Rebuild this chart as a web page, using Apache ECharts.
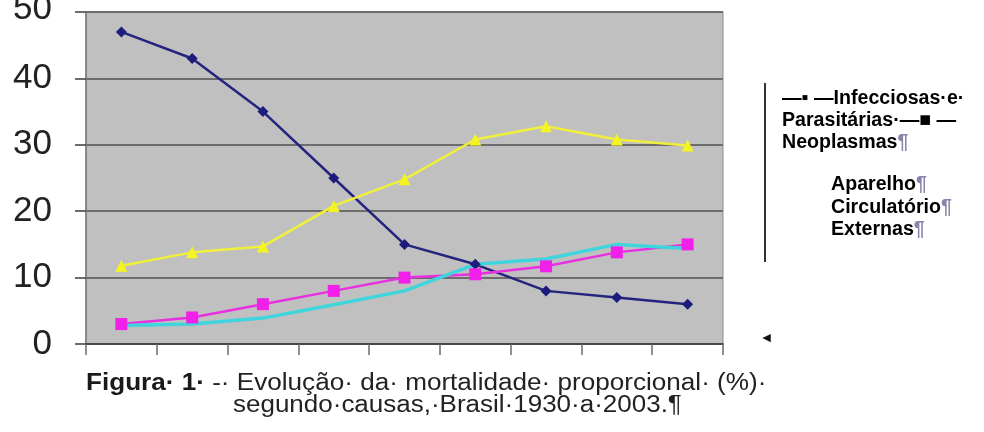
<!DOCTYPE html>
<html>
<head>
<meta charset="utf-8">
<script src="https://cdn.jsdelivr.net/npm/echarts@6/dist/echarts.min.js"></script>
<style>html,body{margin:0;padding:0;background:#fff}#c{width:984px;height:432px}</style>
</head>
<body>
<div id="c"></div>
<script>
var categories = ['1930', '1940', '1950', '1960', '1970', '1980', '1990', '2000', '2003'];
var infecciosas = [47, 43, 35, 25, 15, 12, 8, 7, 6];
var neoplasmas = [3, 4, 6, 8, 10, 10.5, 11.7, 13.8, 15];
var aparelhoCirculatorio = [11.8, 13.8, 14.7, 20.8, 24.8, 30.8, 32.8, 30.8, 29.9];
var externas = [2.8, 3, 3.9, 5.9, 8, 12, 12.8, 15, 14.4];
var yTicks = {min: 0, max: 50, interval: 10};
var caption1 = '{b|Figura· 1·} -· Evolução· da· mortalidade· proporcional· (%)·';
var caption2 = 'segundo·causas,·Brasil·1930·a·2003.¶';
var legendLines = ['—▪ —Infecciosas·e·', 'Parasitárias·—■ —', 'Neoplasmas{p|¶}', 'Aparelho{p|¶}', 'Circulatório{p|¶}', 'Externas{p|¶}'];

var chart = echarts.init(document.getElementById('c'), null, {renderer: 'canvas'});
var FF = 'Liberation Sans, Arial, sans-serif';

function legendText(i, x, y) {
  return {
    type: 'text', x: x, y: y, scaleX: 0.98, z: 100,
    style: {
      text: legendLines[i], x: 0, y: 0,
      font: 'bold 20px ' + FF, fill: '#000', textVerticalAlign: 'middle',
      rich: {p: {fill: '#8a84a8', font: 'bold 20px ' + FF}}
    }
  };
}

chart.setOption({
  animation: false,
  backgroundColor: '#ffffff',
  grid: {left: 86, right: 261, top: 12, bottom: 88, containLabel: false, outerBoundsMode: 'none',
    show: true, backgroundColor: '#c0c0c0', borderColor: '#8c8c8c', borderWidth: 1},
  xAxis: {
    type: 'category', data: categories, boundaryGap: true,
    axisLine: {show: true, lineStyle: {color: '#3c3c3c', width: 1.5}},
    axisTick: {show: true, interval: 0, length: 11, lineStyle: {color: '#6a6a6a', width: 1.5}},
    axisLabel: {show: false},
    splitLine: {show: false}
  },
  yAxis: {
    type: 'value', min: yTicks.min, max: yTicks.max, interval: yTicks.interval,
    axisLine: {show: true, lineStyle: {color: '#7a7a7a', width: 1.5}},
    axisTick: {show: true, length: 11, lineStyle: {color: '#3c3c3c', width: 1.5}},
    axisLabel: {fontSize: 35, fontFamily: FF, color: '#222', margin: 34,
      formatter: function (v) { return v === yTicks.max ? '{t|' + v + '}' : String(v); },
      rich: {t: {fontSize: 35, fontFamily: FF, color: '#222', padding: [0, 0, 5, 0]}}},
    splitLine: {show: true, lineStyle: {color: '#6c6c6c', width: 2}}
  },
  series: [
    {name: 'Infecciosas e Parasitárias', type: 'line', data: infecciosas,
      symbol: 'diamond', symbolSize: 11, itemStyle: {color: '#1c1c7c'},
      lineStyle: {color: '#24247e', width: 2.5}},
    {name: 'Neoplasmas', type: 'line', data: neoplasmas,
      symbol: 'rect', symbolSize: 12, itemStyle: {color: '#f020e8'},
      lineStyle: {color: '#e830e0', width: 2.5}},
    {name: 'Aparelho Circulatório', type: 'line', data: aparelhoCirculatorio,
      symbol: 'triangle', symbolSize: 12, itemStyle: {color: '#f4f420'},
      lineStyle: {color: '#f0f03a', width: 2.5}},
    {name: 'Externas', type: 'line', data: externas,
      symbol: 'none', showSymbol: false,
      lineStyle: {color: '#40d4dc', width: 3.5}}
  ],
  graphic: [
    {type: 'text', x: 86, y: 384, scaleX: 1.135, z: 100,
      style: {text: caption1, x: 0, y: 0, font: '23px ' + FF, fill: '#222', textVerticalAlign: 'middle',
        rich: {b: {font: 'bold 23px ' + FF, fill: '#1a1a1a'}}}},
    {type: 'text', x: 233, y: 406, scaleX: 1.13, z: 100,
      style: {text: caption2, x: 0, y: 0, font: '23px ' + FF, fill: '#222', textVerticalAlign: 'middle'}},
    {type: 'line', z: 100, shape: {x1: 765, y1: 83, x2: 765, y2: 262}, style: {stroke: '#333', lineWidth: 2}},
    legendText(0, 782, 98),
    legendText(1, 782, 120),
    legendText(2, 782, 142),
    legendText(3, 831, 184),
    legendText(4, 831, 207),
    legendText(5, 831, 229),
    {type: 'text', x: 763, y: 338, z: 100,
      style: {text: '◂', x: 0, y: 0, font: 'bold 15px ' + FF, fill: '#111', textVerticalAlign: 'middle'}}
  ]
});
</script>
</body>
</html>
